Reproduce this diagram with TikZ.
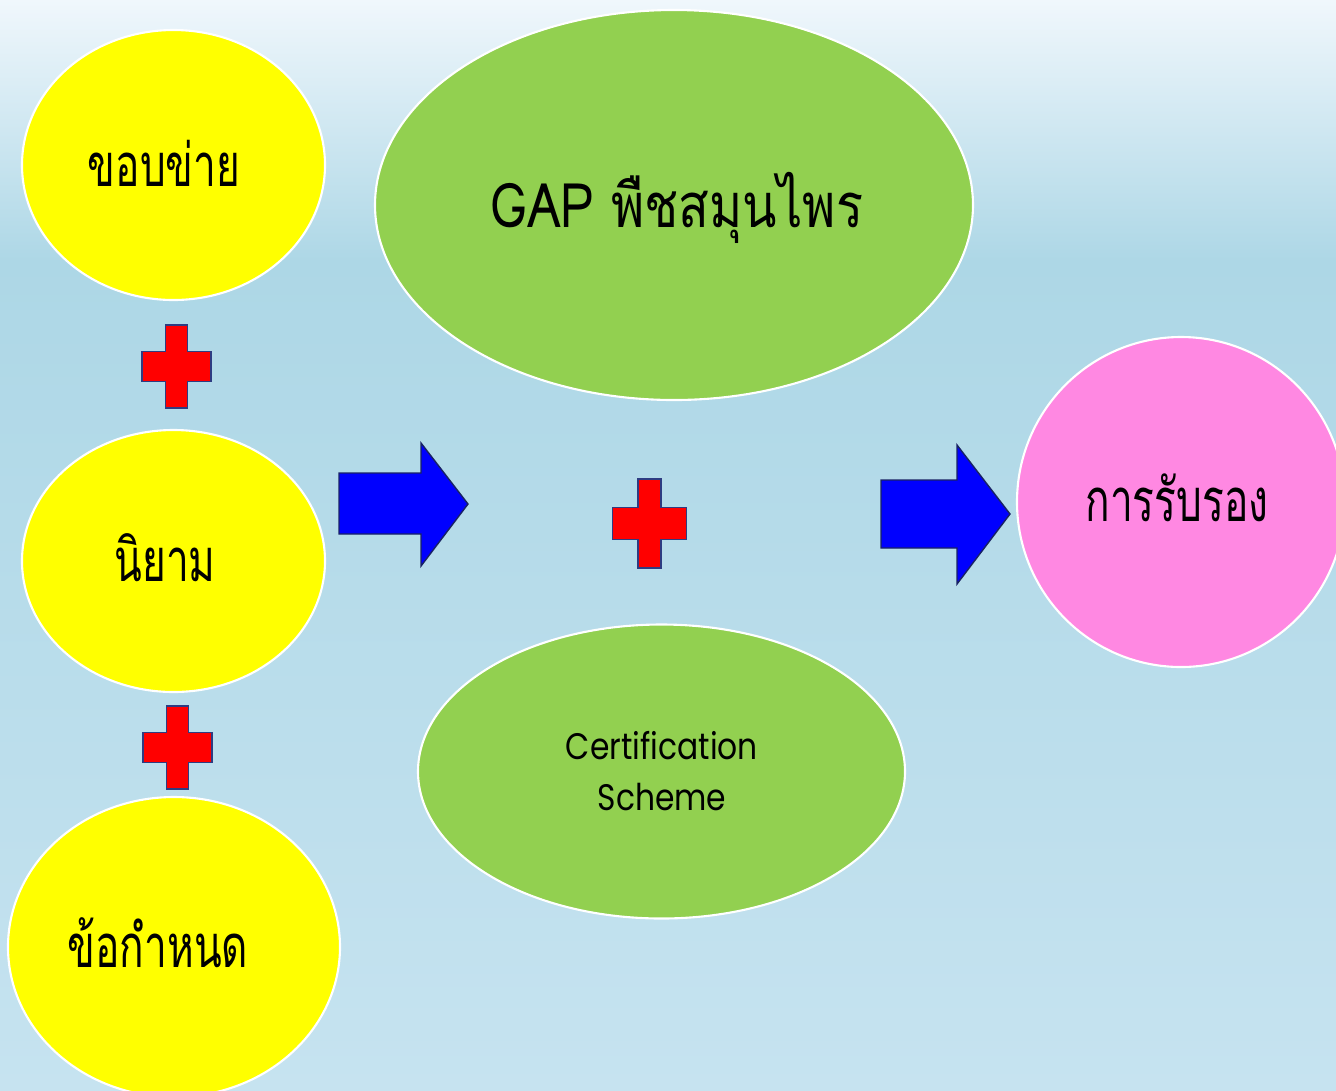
\documentclass[tikz,border=0pt]{standalone}
\usepackage{fontspec}
\usetikzlibrary{shapes.geometric}
\newfontfamily\thaifont[Script=Thai,FakeStretch=0.68]{Loma}
\newfontfamily\gapfont[Script=Thai,FakeStretch=0.82]{Loma}
\newfontfamily\certfont[FakeStretch=0.85]{Poppins}
\definecolor{bgtop}{RGB}{240,247,252}
\definecolor{bgmid}{RGB}{173,215,230}
\definecolor{bgbot}{RGB}{198,227,240}
\definecolor{yel}{RGB}{255,255,0}
\definecolor{grn}{RGB}{146,208,80}
\definecolor{pnk}{RGB}{255,136,226}
\definecolor{plusred}{RGB}{255,0,0}
\definecolor{plusedge}{RGB}{46,60,130}
\definecolor{arrblue}{RGB}{0,0,255}
\definecolor{arredge}{RGB}{25,35,100}
\def\px{0.02cm}
\tikzset{
  bubble/.style={ellipse, draw=white, line width=1.2pt, inner sep=0pt, text=black},
  thaitext/.style={font=\thaifont\fontsize{34}{38}\selectfont},
  plusfill/.style={fill=plusred, draw=plusedge, line width=0.9pt, line join=miter},
  blockarrow/.style={fill=arrblue, draw=arredge, line width=0.8pt, line join=miter},
  plussign/.pic={\path[plusfill] (-11,-41.5) -- (11,-41.5) -- (11,-15) -- (34.5,-15) -- (34.5,15) -- (11,15) -- (11,41.5) -- (-11,41.5) -- (-11,15) -- (-34.5,15) -- (-34.5,-15) -- (-11,-15) -- cycle;}
}
\begin{document}
\begin{tikzpicture}[x=0.02cm,y=-0.02cm]
\useasboundingbox (0,0) rectangle (1336,1090);
\shade[top color=bgtop,bottom color=bgmid] (0,0) rectangle (1336,262);
\shade[top color=bgmid,bottom color=bgbot] (0,260) rectangle (1336,1090);
\begin{scope}
\clip (0,0) rectangle (1336,1090);
% left column
\node[bubble, fill=yel, minimum width=303*\px, minimum height=270*\px] (scope) at (173.5,165) {};
\node[bubble, fill=yel, minimum width=303*\px, minimum height=262*\px] (defn) at (173.5,561) {};
\node[bubble, fill=yel, minimum width=332*\px, minimum height=300*\px] (reqs) at (174,947) {};
% middle column
\node[bubble, fill=grn, minimum width=598*\px, minimum height=390*\px] (gap) at (674,205) {};
\node[bubble, fill=grn, minimum width=487*\px, minimum height=294*\px] (cert) at (661.5,771.5) {};
% right
\node[bubble, fill=pnk, minimum width=328*\px, minimum height=330*\px] (accr) at (1181,502) {};
% texts
\node[thaitext] (tscope) at (164,163) {ขอบข่าย};
\node[thaitext] (tdefn) at (165,558) {นิยาม};
\node[thaitext] (treqs) at (158,943) {ข้อกำหนด};
\node[thaitext] (taccr) at (1177,498) {การรับรอง};
\node[font=\gapfont\fontsize{35}{40}\selectfont] (tgap) at (677,208) {GAP พืชสมุนไพร};
\node[align=center, font=\certfont\fontsize{21}{29}\selectfont] (tcert) at (662,771) {Certification\\Scheme};
\end{scope}
% plus signs
\pic at (176.5,366.5) {plussign};
\pic at (177.5,747.5) {plussign};
\pic[scale=1.07] at (649.5,523.5) {plussign};
% block arrows
\path[blockarrow] (339,473) -- (421,473) -- (421,443) -- (468,504) -- (421,566) -- (421,534) -- (339,534) -- cycle;
\path[blockarrow] (881,480) -- (957,480) -- (957,445) -- (1010,514) -- (957,584) -- (957,548) -- (881,548) -- cycle;
\end{tikzpicture}
\end{document}
